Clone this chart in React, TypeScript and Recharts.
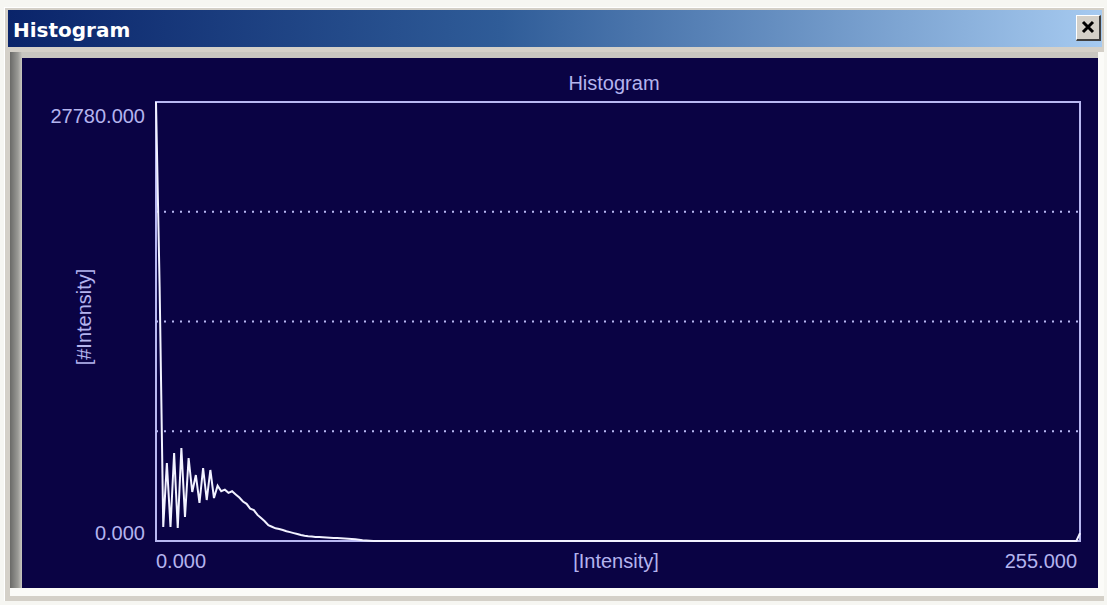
import { LineChart, Line, XAxis, YAxis, ReferenceLine, ReferenceArea } from "recharts";

// Pixel counts per intensity bin, low end of the range (bins 0..59)
const COUNTS = [
  27780, 16100, 886, 4936, 886, 5569, 823, 5885, 1519, 5252,
  3100, 4176, 2405, 4620, 2594, 4493, 2721, 3500, 3150, 3250,
  3050, 3150, 2950, 2750, 2500, 2350, 2050, 1950, 1650, 1450,
  1250, 1000, 900, 800, 760, 700, 620, 560, 500, 440,
  380, 330, 300, 280, 260, 250, 240, 225, 210, 195,
  185, 175, 165, 150, 130, 110, 80, 50, 30, 15,
];
// The rest of the range is flat at zero apart from the saturated last bin
const TAIL_BINS = [60, 254, 255];
const TAIL_COUNTS = [5, 5, 500];

const X_TICKS = [0, 255];
const Y_MAX = 27780;
const Y_TICKS = [0, 27780];
const GRID_VALUES = [Y_MAX / 4, Y_MAX / 2, (Y_MAX * 3) / 4];

const data = [
  ...COUNTS.map((count, bin) => ({ bin, count })),
  ...TAIL_BINS.map((bin, i) => ({ bin, count: TAIL_COUNTS[i] })),
];

const NAVY = "#0a0344";
const LAVENDER = "#b8b8f2";
const TEXT = "#b4b4ee";
const FONT = "Arial, 'Liberation Sans', sans-serif";

const renderXTick = (props: any) => {
  const { x, y, payload } = props;
  const first = payload.value === 0;
  return (
    <text
      x={first ? x : x - 3}
      y={y + 20}
      textAnchor={first ? "start" : "end"}
      fill={TEXT}
      fontSize={20}
      fontFamily={FONT}
    >
      {Number(payload.value).toFixed(3)}
    </text>
  );
};

const renderYTick = (props: any) => {
  const { x, y, payload } = props;
  const top = payload.value === Y_MAX;
  return (
    <text
      x={x}
      y={top ? y + 21 : y - 1}
      textAnchor="end"
      fill={TEXT}
      fontSize={20}
      fontFamily={FONT}
    >
      {Number(payload.value).toFixed(3)}
    </text>
  );
};

export default function App() {
  return (
    <div
      style={{
        position: "absolute",
        left: 0,
        top: 0,
        width: 1107,
        height: 605,
        background: "#f6f6f2",
        overflow: "hidden",
      }}
    >
      {/* window frame */}
      <div
        style={{
          position: "absolute",
          left: 4,
          top: 7,
          width: 1100,
          height: 594,
          background: "#d4d0c8",
          borderTop: "1px solid #ffffff",
          borderLeft: "1px solid #ffffff",
          boxSizing: "border-box",
        }}
      />
      {/* title bar */}
      <div
        style={{
          position: "absolute",
          left: 8,
          top: 10,
          width: 1094,
          height: 37,
          background: "linear-gradient(to right, #0a246a, #2f5c98 45%, #a6caf0)",
        }}
      />
      {/* close button */}
      <div
        style={{
          position: "absolute",
          left: 1076,
          top: 15,
          width: 25,
          height: 26,
          background: "#d4d0c8",
          borderTop: "1px solid #ffffff",
          borderLeft: "1px solid #ffffff",
          borderRight: "2px solid #404040",
          borderBottom: "2px solid #404040",
          boxSizing: "border-box",
        }}
      >
        <svg width={22} height={23} style={{ position: "absolute", left: 0, top: 0 }}>
          <path d="M6 6 L16 16 M16 6 L6 16" stroke="#000" strokeWidth={3} />
        </svg>
      </div>
      {/* sunken panel border */}
      <div
        style={{
          position: "absolute",
          left: 10,
          top: 52,
          width: 1094,
          height: 544,
          background: "linear-gradient(to right, #6a6a68, #9a9a96 8px, #c8c6c0 12px)",
          borderRight: "6px solid #fbfbf8",
          borderBottom: "8px solid #fbfbf8",
          boxSizing: "border-box",
        }}
      />
      {/* plot panel */}
      <div
        style={{
          position: "absolute",
          left: 22,
          top: 58,
          width: 1076,
          height: 530,
          background: NAVY,
        }}
      />
      <div style={{ position: "absolute", left: 0, top: 0 }}>
        <LineChart
          width={1107}
          height={605}
          data={data}
          margin={{ top: 102, right: 27, bottom: 34, left: 96 }}
        >
          <XAxis
            dataKey="bin"
            type="number"
            domain={[0, 255]}
            ticks={X_TICKS}
            height={30}
            axisLine={false}
            tickLine={false}
            tickSize={0}
            tickMargin={7}
            tick={renderXTick}
          />
          <YAxis
            type="number"
            domain={[0, Y_MAX]}
            ticks={Y_TICKS}
            width={60}
            axisLine={false}
            tickLine={false}
            tickSize={0}
            tickMargin={11}
            tick={renderYTick}
          />
          {GRID_VALUES.map((v) => (
            <ReferenceLine
              key={v}
              y={v}
              stroke={LAVENDER}
              strokeWidth={2}
              strokeDasharray="2 6"
            />
          ))}
          <Line
            type="linear"
            dataKey="count"
            stroke="#f2f2ff"
            strokeWidth={2}
            dot={false}
            isAnimationActive={false}
          />
          <ReferenceArea
            x1={0}
            x2={255}
            y1={0}
            y2={Y_MAX}
            fill="none"
            stroke={LAVENDER}
            strokeWidth={2}
          />
        </LineChart>
      </div>
      {/* captions */}
      <svg
        width={1107}
        height={605}
        style={{ position: "absolute", left: 0, top: 0, pointerEvents: "none" }}
      >
        <text
          x={13}
          y={37}
          fill="#ffffff"
          fontSize={20}
          fontWeight="bold"
          fontFamily="'DejaVu Sans', sans-serif"
        >
          Histogram
        </text>
        <text x={614} y={90} textAnchor="middle" fill={TEXT} fontSize={20} fontFamily={FONT}>
          Histogram
        </text>
        <text x={616} y={568} textAnchor="middle" fill={TEXT} fontSize={20} fontFamily={FONT}>
          [Intensity]
        </text>
        <text
          x={0}
          y={0}
          transform="translate(91 317) rotate(-90)"
          textAnchor="middle"
          fill={TEXT}
          fontSize={20}
          fontFamily={FONT}
        >
          [#Intensity]
        </text>
      </svg>
    </div>
  );
}
